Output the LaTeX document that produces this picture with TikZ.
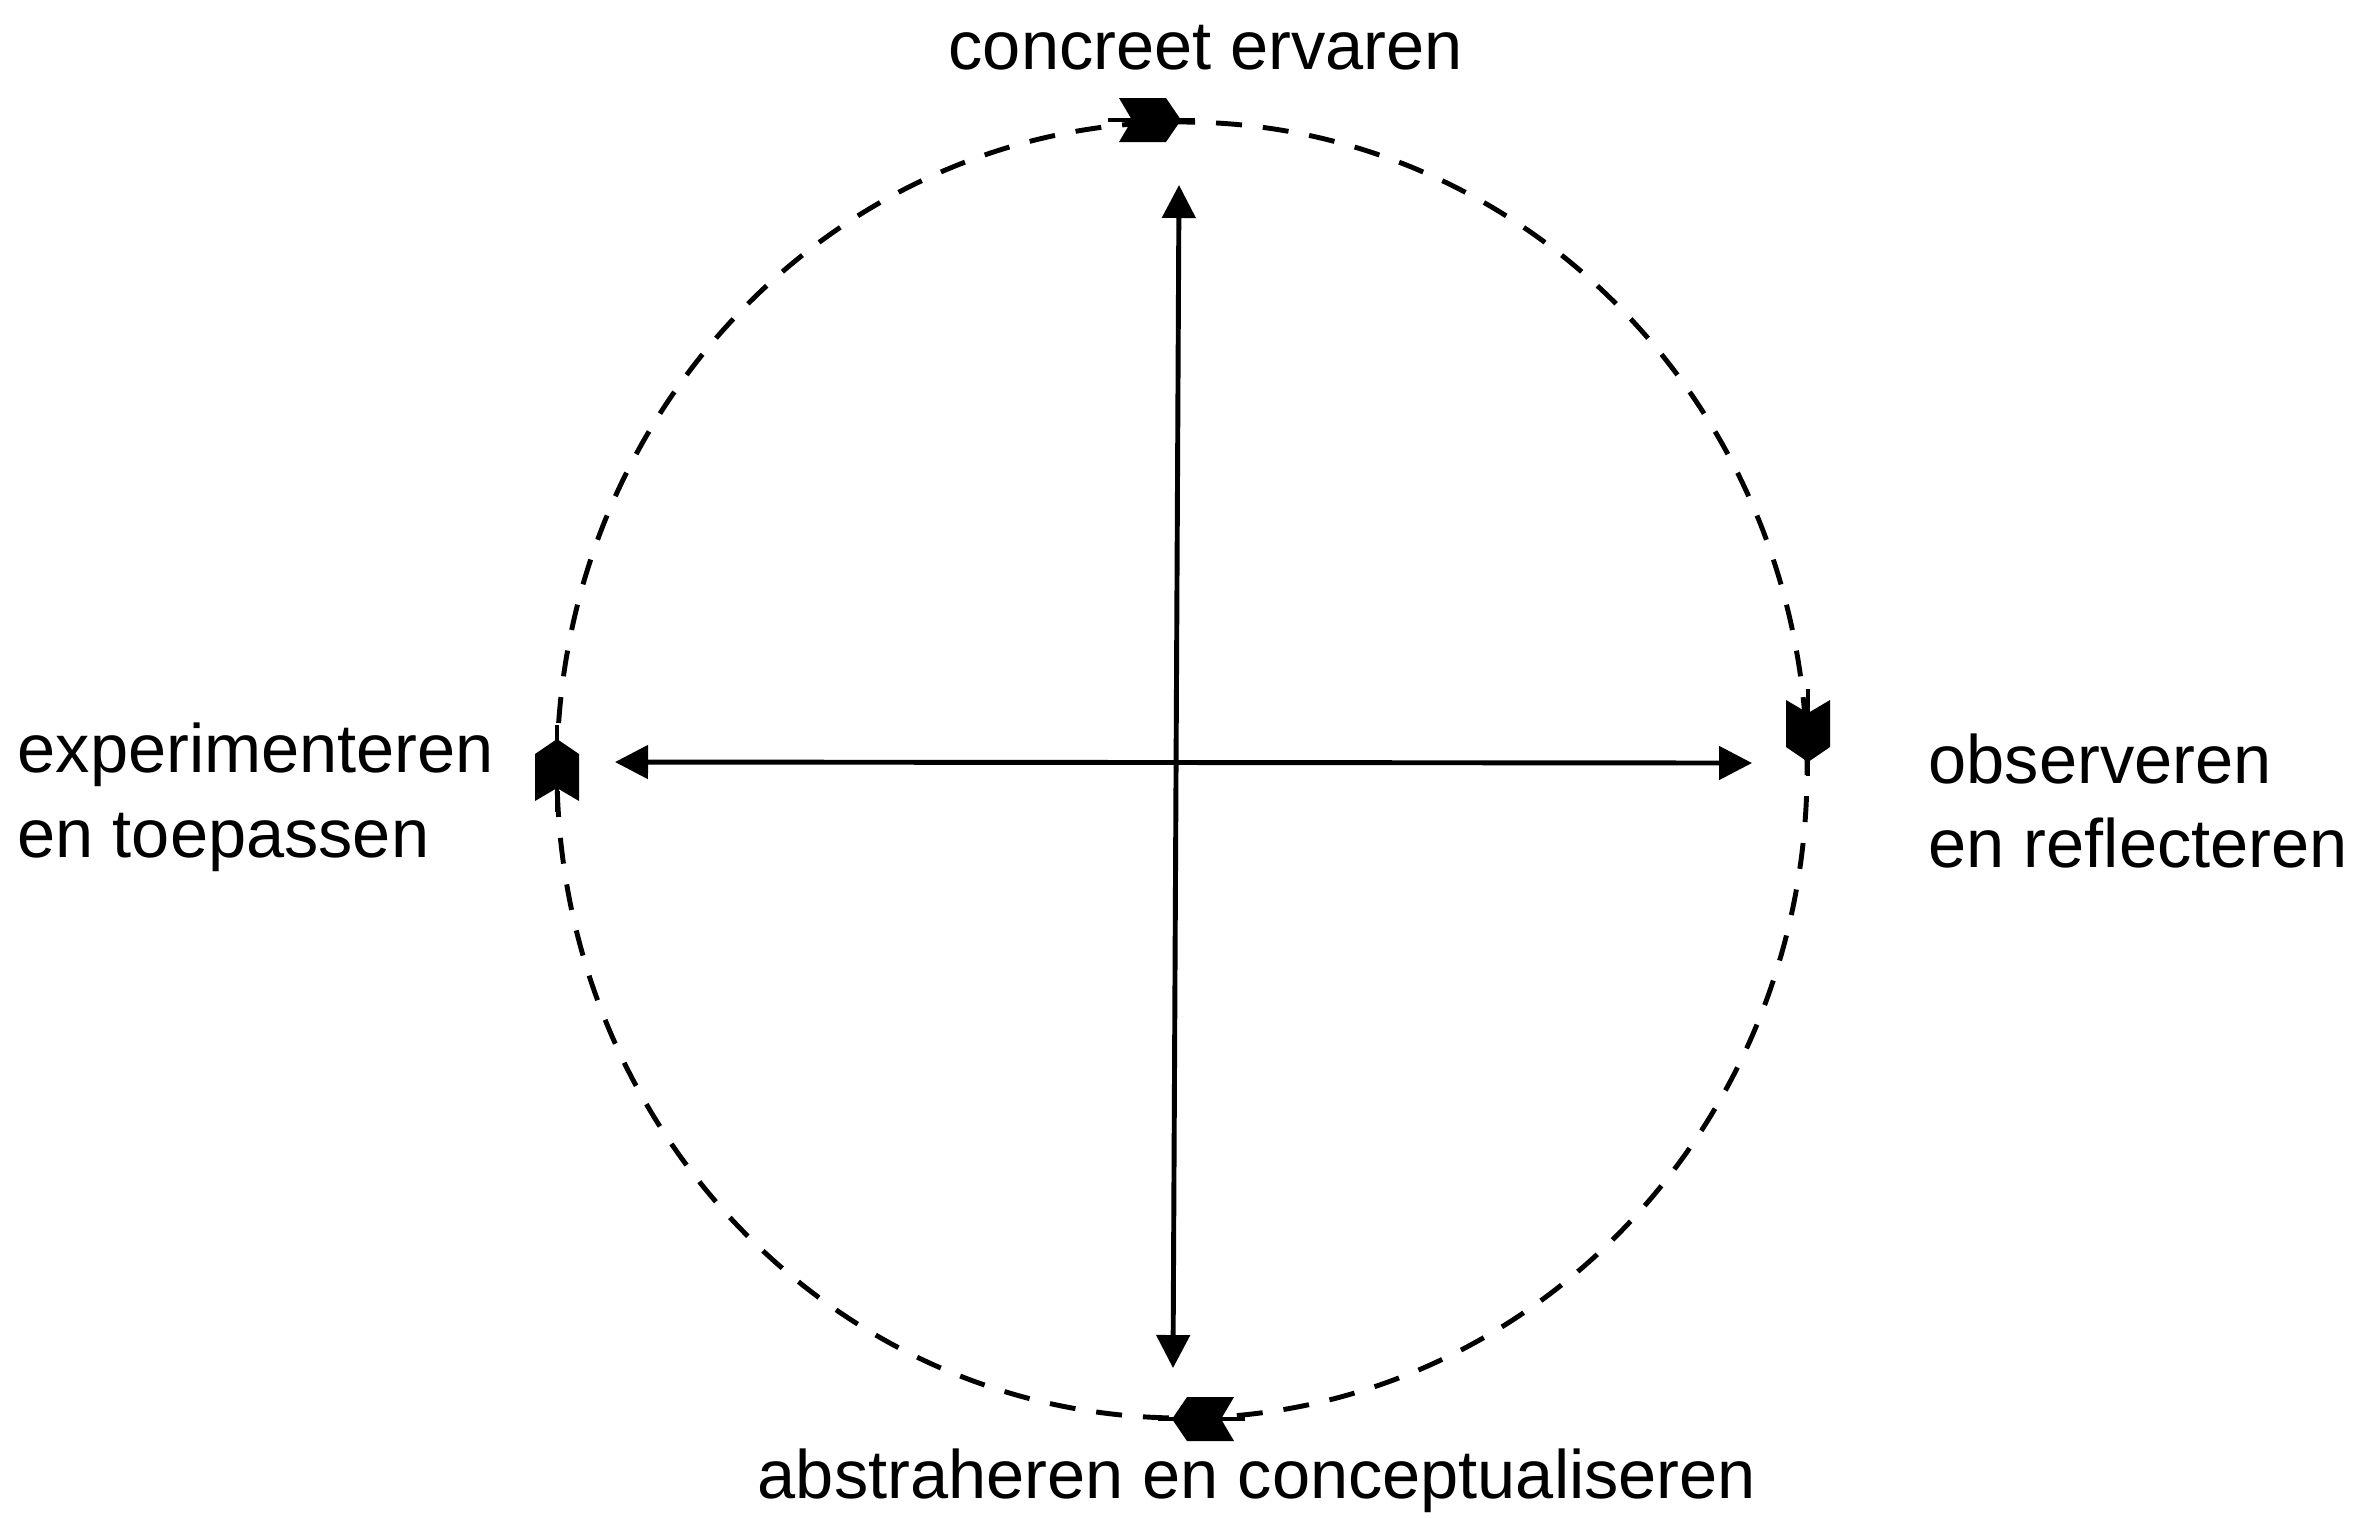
\documentclass[tikz,border=0pt]{standalone}
\usepackage{fontspec}
\setmainfont{Liberation Sans}
\usetikzlibrary{arrows.meta}
\begin{document}
\begin{tikzpicture}[
  lbl/.style={inner sep=0pt, font=\fontsize{19.5pt}{24pt}\selectfont},
  axis/.style={line width=1.4pt, {Triangle[length=0.33cm,width=0.33cm]}-{Triangle[length=0.33cm,width=0.33cm]}},
  loop/.style={line width=1.4pt, dash pattern=on 0.26cm off 0.21cm},
  fletch/.pic={
    \draw[line width=1.4pt] (-0.42,0) -- (0.45,0);
    \fill (-0.31,0.22) -- (0.16,0.22) -- (0.31,0) -- (0.16,-0.22) -- (-0.31,-0.22) -- (-0.18,0) -- cycle;
  }
]
\useasboundingbox (0,0) rectangle (23.59,-15.17);
\fill[white] (0,0) rectangle (23.59,-15.17);

% dashed cycle
\draw[loop] (11.82,-7.70) ellipse [x radius=6.25, y radius=6.48];

% markers on the cycle (clockwise)
\pic at (11.50,-1.20) {fletch};
\pic[rotate=-90] at (18.08,-7.31) {fletch};
\pic[rotate=180] at (12.03,-14.19) {fletch};
\pic[rotate=90] at (5.57,-7.70) {fletch};

% axes
\coordinate (vt) at (11.79,-1.85);
\coordinate (vb) at (11.73,-13.68);
\coordinate (hl) at (6.15,-7.62);
\coordinate (hr) at (17.52,-7.63);
\draw[axis] (vt) -- (vb);
\draw[axis] (hl) -- (hr);

% labels
\node[lbl, anchor=base west] (top) at (9.48,-0.69) {concreet ervaren};
\node[lbl, anchor=base west] (l1) at (0.17,-7.72) {experimenteren};
\node[lbl, anchor=base west] (l2) at (0.17,-8.57) {en toepassen};
\node[lbl, anchor=base west] (r1) at (19.28,-7.83) {observeren};
\node[lbl, anchor=base west] (r2) at (19.28,-8.67) {en reflecteren};
\node[lbl, anchor=base] (bot) at (12.57,-14.98) {abstraheren en conceptualiseren};
\end{tikzpicture}
\end{document}
